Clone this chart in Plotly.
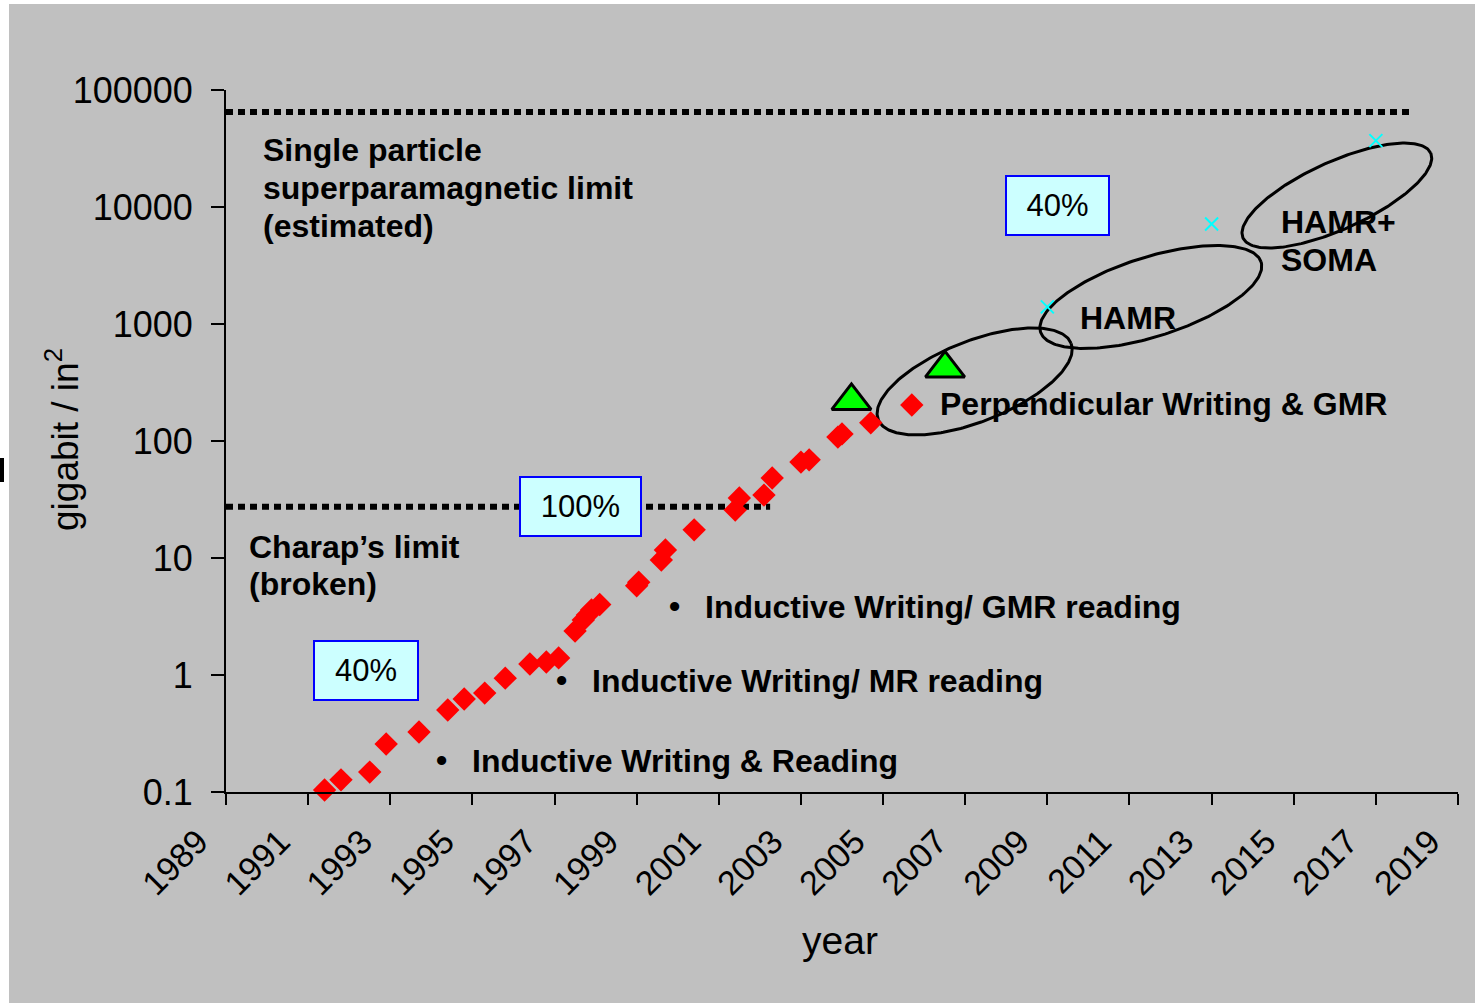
import numpy as np
import plotly.graph_objects as go

# ---------------- data ----------------
density_years = [1991.4, 1991.8, 1992.5, 1992.9, 1993.7, 1994.4, 1994.8, 1995.3,
                 1995.8, 1996.4, 1996.8, 1997.1, 1997.5, 1997.7, 1997.8, 1997.9,
                 1998.1, 1999.0, 1999.05, 1999.6, 1999.7, 2000.4, 2001.4, 2001.5,
                 2002.1, 2002.3, 2003.0, 2003.2, 2003.9, 2004.0, 2004.7, 2005.7]
density_values = [0.104, 0.127, 0.148, 0.257, 0.326, 0.502, 0.624, 0.70,
                  0.94, 1.24, 1.29, 1.40, 2.38, 2.95, 3.26, 3.6,
                  4.0, 5.8, 6.2, 9.6, 11.7, 17.4, 25.7, 32.6,
                  34.5, 48.3, 66, 69, 108, 115, 143, 203]
perp_years = [2004.23, 2006.51]
perp_values = [220, 417]
hamr_years = [2009.0, 2013.0, 2017.0]
hamr_values = [1400, 7160, 36900]
superpara_limit = 64900
superpara_end_year = 2017.83
charap_limit = 27.4
charap_end_year = 2002.25
x_tick_years = list(range(1989, 2020, 2))
y_tick_values = [0.1, 1, 10, 100, 1000, 10000, 100000]
y_tick_labels = ["0.1", "1", "10", "100", "1000", "10000", "100000"]

# ---------------- geometry / style ----------------
W, H = 1477, 1003
ML, MR, MT, MB = 226, 19, 90, 211
PW, PH = W - ML - MR, H - MT - MB
X0, X1 = 1989, 2019
Y0, Y1 = -1, 5
FONT = "Arial, Liberation Sans, sans-serif"
BG = "#c0c0c0"


def px_to_paper(px, py):
    return (px - ML) / PW, (H - MB - py) / PH


def ellipse(cx, cy_log, a, b, theta):
    t = np.linspace(0, 2 * np.pi, 240)
    th = np.radians(theta)
    dx = a * np.cos(t) * np.cos(th) - b * np.sin(t) * np.sin(th)
    dy = a * np.cos(t) * np.sin(th) + b * np.sin(t) * np.cos(th)
    xs = cx + dx * (X1 - X0) / PW
    ys = 10 ** (cy_log + dy * (Y1 - Y0) / PH)
    return xs, ys


fig = go.Figure()

# ellipses (technology regions)
for (cx, cy, a, b, th) in [(2007.23, 2.509, 103.7, 40.3, 21.6),
                           (2011.52, 3.231, 115.7, 39.7, 17.6),
                           (2016.05, 4.098, 103.0, 33.8, 24.35)]:
    ex, ey = ellipse(cx, cy, a, b, th)
    fig.add_trace(go.Scatter(x=ex, y=ey, mode="lines",
                             line=dict(color="black", width=3),
                             hoverinfo="skip", showlegend=False))

# limit lines
fig.add_trace(go.Scatter(x=[X0, superpara_end_year], y=[superpara_limit, superpara_limit],
                         mode="lines", line=dict(color="black", width=6, dash="7px,5px"),
                         hoverinfo="skip", showlegend=False))
fig.add_trace(go.Scatter(x=[X0, charap_end_year], y=[charap_limit, charap_limit],
                         mode="lines", line=dict(color="black", width=6, dash="7px,5px"),
                         hoverinfo="skip", showlegend=False))

# data markers
fig.add_trace(go.Scatter(x=density_years, y=density_values, mode="markers",
                         marker=dict(symbol="diamond", size=18, color="#ff0000"),
                         cliponaxis=False, showlegend=False))
fig.add_trace(go.Scatter(x=perp_years, y=perp_values, mode="markers",
                         marker=dict(symbol="triangle-up", size=34, color="#00ff00",
                                     line=dict(color="black", width=3)),
                         cliponaxis=False, showlegend=False))
fig.add_trace(go.Scatter(x=hamr_years, y=hamr_values, mode="markers",
                         marker=dict(symbol="x-thin", size=13, color="#00ffff",
                                     line=dict(color="#00ffff", width=2)),
                         cliponaxis=False, showlegend=False))

annotations = []

def text_ann(year, logv, text, size=32, bold=True, xanchor="left"):
    annotations.append(dict(x=year, y=logv, xref="x", yref="y", text=text,
                            showarrow=False, xanchor=xanchor, yanchor="middle",
                            font=dict(family=FONT, size=size, color="black",
                                      weight="bold" if bold else "normal")))

text_ann(1989.85, 4.487, "Single particle")
text_ann(1989.85, 4.162, "superparamagnetic limit")
text_ann(1989.85, 3.838, "(estimated)")
text_ann(1989.51, 1.094, "Charap\u2019s limit")
text_ann(1989.51, 0.778, "(broken)")
text_ann(1994.24, -0.726, "\u2022", xanchor="center")
text_ann(1994.94, -0.735, "Inductive Writing & Reading")
text_ann(1997.18, -0.043, "\u2022", xanchor="center")
text_ann(1997.86, -0.051, "Inductive Writing/ MR reading")
text_ann(1999.93, 0.590, "\u2022", xanchor="center")
text_ann(2000.61, 0.581, "Inductive Writing/ GMR reading")
text_ann(2006.33, 2.316, "Perpendicular Writing & GMR")
text_ann(2009.75, 3.051, "HAMR")
text_ann(2014.64, 3.872, "HAMR+")
text_ann(2014.64, 3.547, "SOMA")

# growth-rate boxes
for (yr, lg, txt, w) in [(1992.41, 0.038, "40%", 102),
                         (1997.63, 1.440, "100%", 119),
                         (2009.25, 4.017, "40%", 101)]:
    annotations.append(dict(x=yr, y=lg, xref="x", yref="y", text=txt, showarrow=False,
                            xanchor="center", yanchor="middle", width=w, height=57,
                            bgcolor="#ccffff", bordercolor="#0000ff", borderwidth=2,
                            borderpad=0, font=dict(family=FONT, size=31, color="black")))

# axis titles
tx, ty = px_to_paper(62, 440)
annotations.append(dict(x=tx, y=ty, xref="paper", yref="paper", showarrow=False,
                        text="gigabit / in<sup>2</sup>", textangle=-90,
                        xanchor="center", yanchor="middle",
                        font=dict(family=FONT, size=37, color="black")))
tx, ty = px_to_paper(840, 940)
annotations.append(dict(x=tx, y=ty, xref="paper", yref="paper", showarrow=False,
                        text="year", xanchor="center", yanchor="middle",
                        font=dict(family=FONT, size=39, color="black")))

# frame strips (white border of the original picture) and edge mark
shapes = []
def rect_px(x0, y0, x1, y1, color):
    a0, b0 = px_to_paper(x0, y1)
    a1, b1 = px_to_paper(x1, y0)
    shapes.append(dict(type="rect", xref="paper", yref="paper", x0=a0, y0=b0,
                       x1=a1, y1=b1, fillcolor=color, line=dict(width=0), layer="above"))

rect_px(0, 0, 9, H, "white")
rect_px(0, 0, W, 4, "white")
rect_px(1475, 0, W, H, "white")
rect_px(0, 458, 4, 482, "black")

fig.update_layout(
    width=W, height=H,
    margin=dict(l=ML, r=MR, t=MT, b=MB, autoexpand=False),
    paper_bgcolor=BG, plot_bgcolor=BG,
    font=dict(family=FONT, color="black"),
    showlegend=False,
    annotations=annotations,
    shapes=shapes,
    xaxis=dict(range=[X0, X1], tickvals=x_tick_years, ticktext=[str(v) for v in x_tick_years],
               tickangle=-45, showgrid=False, zeroline=False,
               showline=True, linecolor="black", linewidth=2,
               ticks="outside", ticklen=11, tickwidth=2, tickcolor="black",
               ticklabelshift=-28, ticklabelstandoff=3,
               tickfont=dict(family=FONT, size=34, color="black")),
    yaxis=dict(type="log", range=[Y0, Y1], tickvals=y_tick_values, ticktext=y_tick_labels,
               showgrid=False, zeroline=False,
               showline=True, linecolor="black", linewidth=2,
               ticks="outside", ticklen=13, tickwidth=2, tickcolor="black",
               ticklabelstandoff=11,
               tickfont=dict(family=FONT, size=36, color="black")),
)

fig.write_html("out.html", config={"displayModeBar": False},
               post_script="document.body.style.margin='0';")
